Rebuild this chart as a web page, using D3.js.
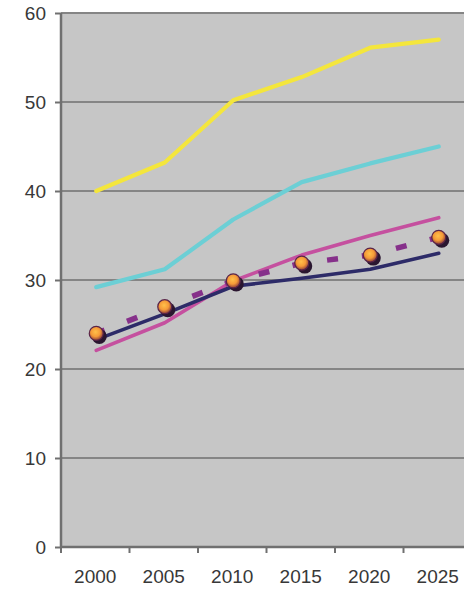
<!DOCTYPE html>
<html>
<head>
<meta charset="utf-8">
<script src="https://cdn.jsdelivr.net/npm/d3@7"></script>
<style>
  html, body { margin: 0; padding: 0; background: #fff; overflow: hidden; }
  svg { display: block; }
  .tick-label { font-family: 'Liberation Sans', Arial, sans-serif; font-size: 19px; fill: #383838; }
</style>
</head>
<body>
<svg id="chart" width="464" height="590"></svg>
<script>
'use strict';

const years = ['2000', '2005', '2010', '2015', '2020', '2025'];
const yTicks = [0, 10, 20, 30, 40, 50, 60];

const yellowSeries = [40, 43.2, 50.2, 52.8, 56.1, 57.0];
const cyanSeries = [29.2, 31.2, 36.8, 41.0, 43.1, 45.0];
const magentaSeries = [22.1, 25.2, 29.9, 32.8, 35.0, 37.0];
const navySeries = [23.3, 26.2, 29.3, 30.2, 31.2, 33.0];
const markerSeries = [24.0, 27.0, 29.9, 31.9, 32.8, 34.8];

(function () {
  const svg = d3.select('#chart');
  const left = 61, right = 472, top = 13, bottom = 547;

  const x = d3.scaleBand().domain(years).range([left, right]);
  const y = d3.scaleLinear().domain([0, 60]).range([bottom, top]);
  const cx = (d, i) => x(years[i]) + x.bandwidth() / 2 + 1;

  const defs = svg.append('defs');
  const grad = defs.append('radialGradient').attr('id', 'ball').attr('cx', '45%').attr('cy', '40%').attr('r', '60%');
  grad.append('stop').attr('offset', '0%').attr('stop-color', '#ffc04a');
  grad.append('stop').attr('offset', '55%').attr('stop-color', '#f59a38');
  grad.append('stop').attr('offset', '100%').attr('stop-color', '#8a3c3a');

  // plot background
  svg.append('rect')
    .attr('x', left).attr('y', top)
    .attr('width', right - left).attr('height', bottom - top)
    .attr('fill', '#c6c6c6');

  // gridlines
  svg.append('g')
    .selectAll('line')
    .data(yTicks.filter((t) => t > 0))
    .join('line')
    .attr('x1', left).attr('x2', right)
    .attr('y1', (d) => y(d)).attr('y2', (d) => y(d))
    .attr('stroke', '#858585').attr('stroke-width', 2.2);

  // axes
  const yAxis = d3.axisLeft(y).tickValues(yTicks).tickSize(6).tickPadding(9);
  const gy = svg.append('g').attr('transform', `translate(${left},0)`).call(yAxis);
  const xAxis = d3.axisBottom(x).tickSize(0).tickPadding(23);
  const gx = svg.append('g').attr('transform', `translate(0,${bottom})`).call(xAxis);

  [gy, gx].forEach((g) => {
    g.select('.domain').attr('stroke', '#707070').attr('stroke-width', 2.5);
    g.selectAll('.tick line').attr('stroke', '#707070').attr('stroke-width', 2);
    g.selectAll('.tick text').attr('class', 'tick-label').attr('fill', null);
  });
  gx.select('.domain').attr('d', `M${left},0H${right}`);
  gy.select('.domain').attr('d', `M0,${top}V${bottom}`);

  // category boundary ticks on x axis
  svg.append('g')
    .selectAll('line')
    .data(years)
    .join('line')
    .attr('x1', (d) => x(d)).attr('x2', (d) => x(d))
    .attr('y1', bottom).attr('y2', bottom + 6)
    .attr('stroke', '#707070').attr('stroke-width', 2);

  const line = d3.line().x(cx).y((d) => y(d));

  const solid = [
    [yellowSeries, '#f4e63c', 4.2],
    [cyanSeries, '#6ccfd5', 4.2],
    [magentaSeries, '#c5509f', 3.6],
    [navySeries, '#2d2b68', 3.6]
  ];

  solid.forEach(([data, color, width]) => {
    svg.append('path')
      .datum(data)
      .attr('d', line)
      .attr('fill', 'none')
      .attr('stroke', color)
      .attr('stroke-width', width)
      .attr('stroke-linejoin', 'round')
      .attr('stroke-linecap', 'round');
  });

  svg.append('path')
    .datum(markerSeries)
    .attr('d', line)
    .attr('fill', 'none')
    .attr('stroke', '#86308a')
    .attr('stroke-width', 5.5)
    .attr('stroke-dasharray', '11,24')
    .attr('stroke-dashoffset', -33);

  const markers = svg.append('g');
  markers.selectAll('circle.shadow')
    .data(markerSeries)
    .join('circle')
    .attr('class', 'shadow')
    .attr('cx', (d, i) => cx(d, i) + 3)
    .attr('cy', (d) => y(d) + 3)
    .attr('r', 7.5)
    .attr('fill', '#2a1630');

  markers.selectAll('circle.ball')
    .data(markerSeries)
    .join('circle')
    .attr('class', 'ball')
    .attr('cx', cx)
    .attr('cy', (d) => y(d))
    .attr('r', 7)
    .attr('fill', 'url(#ball)')
    .attr('stroke', '#5a2448')
    .attr('stroke-width', 1.2);
})();
</script>
</body>
</html>
